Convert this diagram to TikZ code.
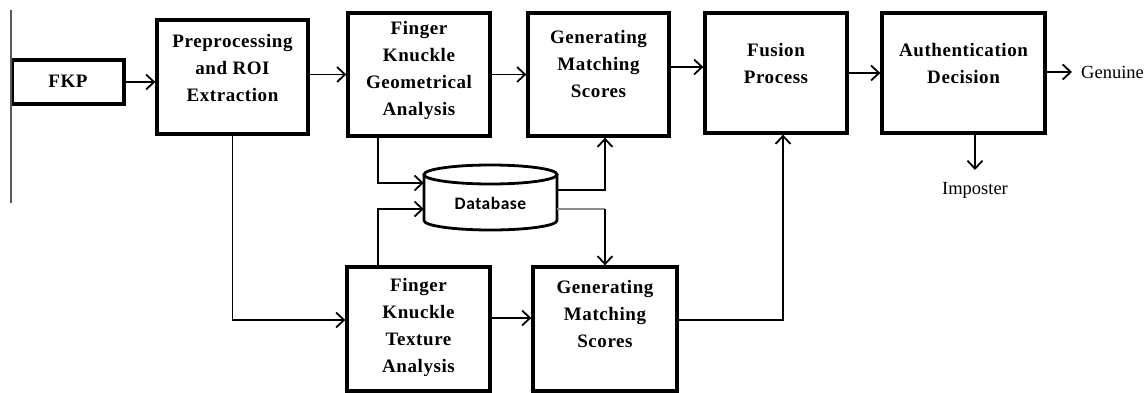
\documentclass[tikz,border=0pt]{standalone}
\usepackage{fontspec}
\setmainfont{Liberation Serif}
\newfontfamily\dbfont{Carlito}
\usetikzlibrary{arrows.meta}
\begin{document}
\begin{tikzpicture}[x=1pt,y=-1pt,
  box/.style={draw, line width=3.3pt, inner sep=0pt},
  lbl/.style={font=\bfseries\fontsize{19}{27}\selectfont\addfontfeature{LetterSpace=3}, align=center, inner sep=0pt},
  plain/.style={font=\fontsize{18.5}{22}\selectfont},
  conn/.style={line width=1.8pt, -{Straight Barb[length=8pt,width=15pt,line width=1.8pt]}},
  line/.style={line width=1.8pt},
  cyl/.style={line width=2.8pt},
]
\useasboundingbox (0,0) rectangle (1145,393);

% boxes
\node[box, minimum width=112pt, minimum height=44pt]  (fkp)  at (68,82) {};
\node[box, minimum width=151pt, minimum height=114pt] (prep) at (232.5,77) {};
\node[box, minimum width=142pt, minimum height=123pt] (fkg)  at (419,74.5) {};
\node[box, minimum width=141pt, minimum height=123pt] (gms)  at (598.5,74.5) {};
\node[box, minimum width=142pt, minimum height=120pt] (fus)  at (776,73) {};
\node[box, minimum width=163pt, minimum height=120pt] (auth) at (963.5,73) {};
\node[box, minimum width=143pt, minimum height=124pt] (fkt)  at (418.5,329) {};
\node[box, minimum width=144pt, minimum height=124pt] (gms2) at (605,329) {};
\node[minimum width=133pt, minimum height=65pt, inner sep=0pt] (db) at (490.5,197.5) {};

% database cylinder
\draw[cyl, fill=white] (490.5,174.5) ellipse [x radius=66.5, y radius=9.5];
\draw[cyl] (424,174.5) -- (424,220.5) arc[start angle=180, end angle=0, x radius=66.5, y radius=9.5] -- (557,174.5);

% texts
\node[lbl] (tfkp)  at (68,81) {FKP};
\node[lbl] (tprep) at (232.5,68) {Preprocessing\\and ROI\\Extraction};
\node[lbl] (tfkg)  at (419,70) {Finger\\Knuckle\\Geometrical\\Analysis};
\node[lbl] (tgms)  at (598.5,64) {Generating\\Matching\\Scores};
\node[lbl] (tfus)  at (776,63.5) {Fusion\\Process};
\node[lbl] (tauth) at (963.5,63.5) {Authentication\\Decision};
\node[lbl] (tfkt)  at (418.5,327.5) {Finger\\Knuckle\\Texture\\Analysis};
\node[lbl] (tgms2) at (605,314) {Generating\\Matching\\Scores};
\node[font=\dbfont\bfseries\fontsize{17.5}{20}\selectfont\addfontfeature{LetterSpace=3}, inner sep=0pt] (tdb) at (490.5,203) {Database};
\node[plain, anchor=west, inner xsep=9pt, inner ysep=0pt] (gen) at (1072,72) {Genuine};
\node[plain, anchor=north, inner ysep=12pt, inner xsep=0pt] (imp) at (975,170) {Imposter};

% left margin line
\draw[line, black!65] (11,10) -- (11,203);

% connectors
\draw[conn] (fkp.east) -- (fkp.east -| prep.west);
\draw[conn] (prep.east |- fkg.west) -- (fkg.west);
\draw[conn] (fkg.east) -- (gms.west);
\draw[conn] ([yshift=7.5pt]gms.east) -- ([yshift=7.5pt]gms.east -| fus.west);
\draw[conn] (fus.east) -- (fus.east -| auth.west);
\draw[conn] (auth.east |- gen.west) -- (gen.west);
\draw[conn] (imp.north |- auth.south) -- (imp.north);
\draw[conn] ([xshift=-41pt]fkg.south) |- ([yshift=14.5pt]db.west);
\draw[conn] ([xshift=-40.5pt]fkt.north) |- ([yshift=-11.5pt]db.west);
\draw[conn] (prep.south) |- ([yshift=9pt]fkt.west);
\draw[conn] ([yshift=7.5pt]db.east) -| ([xshift=6.5pt]gms.south);
\coordinate (dbc) at ([yshift=-11.5pt]db.east -| gms2.north);
\draw[line, black!45] ([yshift=-11.5pt]db.east) -- (dbc);
\draw[conn] (dbc) -- (gms2.north);
\draw[conn] ([yshift=11pt]fkt.east) -- ([yshift=11pt]fkt.east -| gms2.west);
\draw[conn] ([yshift=9pt]gms2.east) -| ([xshift=7pt]fus.south);
\end{tikzpicture}
\end{document}
